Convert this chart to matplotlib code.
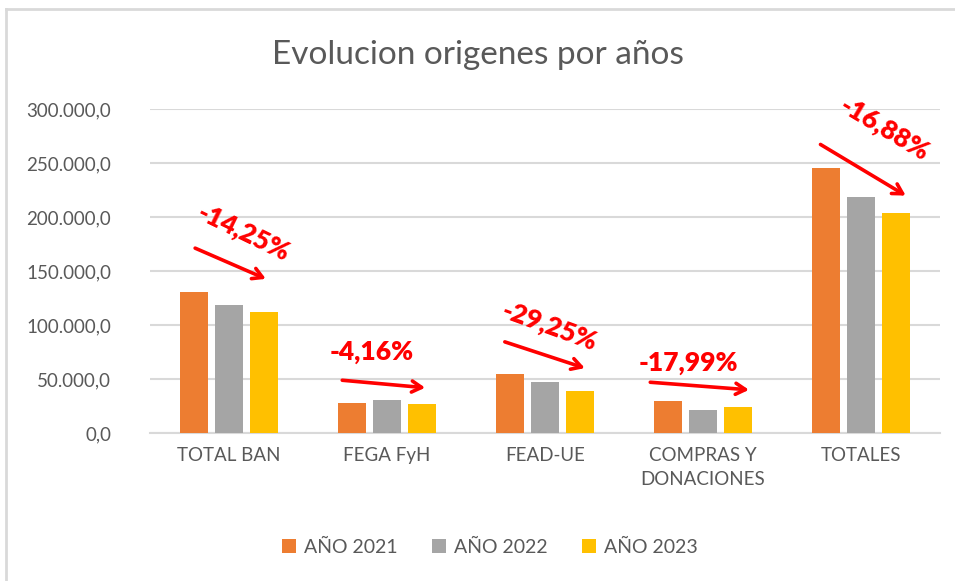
import matplotlib.pyplot as plt
import numpy as np
from matplotlib.ticker import FuncFormatter
from matplotlib.lines import Line2D

categories = ['TOTAL BAN', 'FEGA FyH', 'FEAD-UE', 'COMPRAS Y\nDONACIONES', 'TOTALES']
series_names = ['AÑO 2021', 'AÑO 2022', 'AÑO 2023']
anio_2021 = [130500, 28100, 54600, 29400, 245100]
anio_2022 = [118200, 30600, 47500, 21300, 218200]
anio_2023 = [112000, 26900, 38700, 24100, 203800]
changes = ['-14,25%', '-4,16%', '-29,25%', '-17,99%', '-16,88%']

colors = ['#ED7D31', '#A5A5A5', '#FFC000']
text_grey = '#595959'

plt.rcParams['font.family'] = ['Lato', 'DejaVu Sans']

fig = plt.figure(figsize=(9.55, 5.81), dpi=100)
ax = fig.add_axes([0.157, 0.2547, 0.827, 0.5577])

x = np.arange(len(categories))
width = 0.177
step = 0.222
for i, (vals, name) in enumerate(zip([anio_2021, anio_2022, anio_2023], series_names)):
    ax.bar(x + (i - 1) * step, vals, width, color=colors[i], label=name, zorder=3)

ax.set_xlim(-0.5, len(categories) - 0.5)
ax.set_ylim(0, 300000)
ax.set_yticks(np.arange(0, 300001, 50000))
ax.yaxis.set_major_formatter(FuncFormatter(
    lambda v, p: f'{v:,.1f}'.replace(',', 'X').replace('.', ',').replace('X', '.')))
ax.set_xticks(x)
ax.set_xticklabels(categories, fontsize=13.5, color=text_grey, linespacing=1.5)
ax.tick_params(axis='y', labelsize=13.5, labelcolor=text_grey, length=0, pad=28)
ax.tick_params(axis='x', length=0, pad=10)
ax.grid(axis='y', color='#D9D9D9', lw=1.5, zorder=0)
for s in ['top', 'right', 'left']:
    ax.spines[s].set_visible(False)
ax.spines['bottom'].set_color('#D9D9D9')
ax.spines['bottom'].set_linewidth(1.5)

# arrows: (start x, start y, end x, end y), labels: (x, y, rotation)
arrows = [(-0.23, 172200, 0.25, 141700), (0.70, 49100, 1.26, 41700),
          (1.73, 85200, 2.27, 59300), (2.65, 47200, 3.31, 39800),
          (3.73, 268500, 4.30, 218500)]
labels = [(0.09, 185000, -26), (0.905, 75000, 0), (2.03, 98000, -20),
          (2.91, 64800, 0), (4.15, 281000, -31)]
for (x0, y0, x1, y1), (tx, ty, rot), txt in zip(arrows, labels, changes):
    ax.annotate('', xy=(x1, y1), xytext=(x0, y0),
                arrowprops=dict(arrowstyle='->,head_length=0.7,head_width=0.4',
                                color='#FF0000', lw=2.6), zorder=5)
    ax.text(tx, ty, txt, color='#FF0000', fontsize=19, fontweight='heavy',
            rotation=rot, ha='center', va='center', rotation_mode='anchor', zorder=5)

fig.text(0.5, 0.905, 'Evolucion origenes por años', ha='center', va='center',
         fontsize=24, color=text_grey)

fig.legend(loc='center', bbox_to_anchor=(0.513, 0.058), ncol=3, frameon=False,
           fontsize=14, labelcolor=text_grey, handlelength=0.7, handleheight=0.7,
           columnspacing=1.8, handletextpad=0.4)

# cropped chart border: only top and left edges visible
fig.add_artist(Line2D([0.006, 1.0], [0.985, 0.985], transform=fig.transFigure,
                      color='#D9D9D9', lw=2))
fig.add_artist(Line2D([0.006, 0.006], [0.0, 0.985], transform=fig.transFigure,
                      color='#D9D9D9', lw=2))

plt.savefig('out.png', dpi=100)
plt.close()
